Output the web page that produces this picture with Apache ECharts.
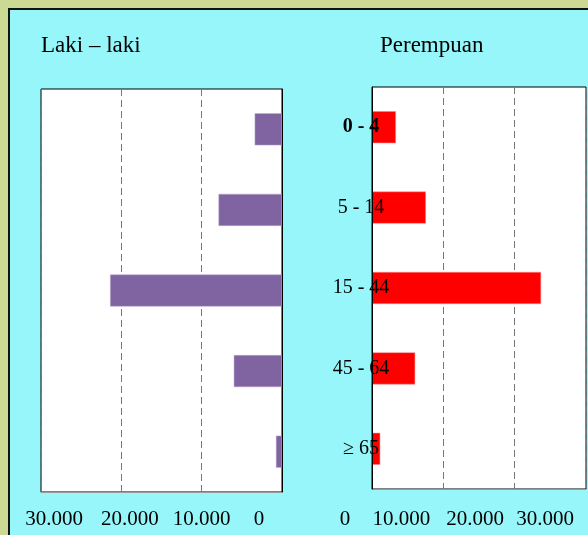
<!DOCTYPE html>
<html>
<head>
<meta charset="utf-8">
<style>
html, body { margin: 0; padding: 0; }
#main { width: 588px; height: 535px; }   /* main必须设置宽和高 */
</style>
<script src="https://cdn.jsdelivr.net/npm/echarts@6/dist/echarts.min.js"></script>
</head>
<body>
<div id="main"></div>
<script>
// 年龄组 (kategori)
var ageGroups = ['0 - 4', '5 - 14', '15 - 44', '45 - 64', '≥ 65'];
// jumlah penduduk
var lakiLaki = [3400, 7900, 21400, 6000, 750];
var perempuan = [3350, 7550, 23700, 6050, 1150];
// tick axis x
var xTicks = [0, 10000, 20000, 30000];

var serif = 'Liberation Serif, Times New Roman, serif';

// 30000 -> "30.000"
function fmt(v) {
    return String(v).replace(/\B(?=(\d{3})+(?!\d))/g, '.');
}

// label di gambar asli bergeser dari tick-nya, geser pakai padding
var leftPad = { 0: [0, 46, 0, 0], 10000: [0, 0, 0, 0], 20000: [0, 0, 0, 17], 30000: [0, 0, 0, 26] };
var rightPad = { 0: [0, 54, 0, 0], 10000: [0, 84, 0, 0], 20000: [0, 79, 0, 0], 30000: [0, 82, 0, 0] };

function richFor(pads) {
    var rich = {};
    xTicks.forEach(function (t) {
        rich['t' + t] = { padding: pads[t], fontSize: 21, fontFamily: serif, color: '#000' };
    });
    return rich;
}

var catLabel = {
    align: 'center',
    margin: 11,
    fontSize: 20,
    fontFamily: serif,
    color: '#000'
};

var myChart = echarts.init(document.getElementById('main'));

myChart.setOption({
    backgroundColor: '#cbd994',
    animation: false,
    graphic: [{
        type: 'rect',
        z: -10,
        shape: { x: 9, y: 9, width: 620, height: 560 },
        style: { fill: '#96f6f9', stroke: '#111', lineWidth: 2 }
    }],
    title: [{
        text: 'Laki – laki',
        left: 41, top: 34, padding: 0,
        textStyle: { fontFamily: serif, fontSize: 23, fontWeight: 'normal', color: '#000' }
    }, {
        text: 'Perempuan',
        left: 380, top: 34, padding: 0,
        textStyle: { fontFamily: serif, fontSize: 23, fontWeight: 'normal', color: '#000' }
    }],
    grid: [{
        left: 41, right: 306, top: 89, bottom: 43,
        show: true, backgroundColor: '#fff', borderColor: '#000', borderWidth: 1
    }, {
        left: 372, right: 2, top: 87, bottom: 46,
        show: true, backgroundColor: '#fff', borderColor: '#000', borderWidth: 1
    }],
    xAxis: [{
        gridIndex: 0,
        type: 'value',
        inverse: true,
        min: 0, max: 30000, interval: 10000,
        axisLine: { show: true, lineStyle: { color: '#999' } },
        axisTick: { show: false },
        splitLine: { lineStyle: { color: '#777', type: [7, 4] } },
        axisLabel: {
            margin: 17,
            formatter: function (v) { return '{t' + v + '|' + fmt(v) + '}'; },
            rich: richFor(leftPad)
        }
    }, {
        gridIndex: 1,
        type: 'value',
        min: 0, max: 30000, interval: 10000,
        axisLine: { show: true, lineStyle: { color: '#999' } },
        axisTick: { show: false },
        splitLine: { lineStyle: { color: '#777', type: [7, 4] } },
        axisLabel: {
            margin: 20,
            formatter: function (v) { return '{t' + v + '|' + fmt(v) + '}'; },
            rich: richFor(rightPad)
        }
    }],
    yAxis: [{
        gridIndex: 0,
        type: 'category',
        position: 'right',
        inverse: true,
        data: ageGroups,
        z: 10,
        axisLine: { lineStyle: { color: '#000' } },
        axisTick: { show: false },
        axisLabel: { show: false }
    }, {
        gridIndex: 1,
        type: 'category',
        inverse: true,
        z: 10,
        data: ageGroups.map(function (g, i) {
            // baris pertama ditulis tebal
            return i === 0 ? { value: g, textStyle: Object.assign({}, catLabel, { fontWeight: 'bold' }) } : g;
        }),
        axisLine: { lineStyle: { color: '#000' } },
        axisTick: { show: false },
        axisLabel: catLabel
    }],
    series: [{
        name: 'Laki – laki',
        type: 'bar',
        xAxisIndex: 0, yAxisIndex: 0,
        data: lakiLaki,
        barWidth: 32,
        itemStyle: { color: '#8064a2', borderColor: '#b8a6cc', borderWidth: 0.5 }
    }, {
        name: 'Perempuan',
        type: 'bar',
        xAxisIndex: 1, yAxisIndex: 1,
        data: perempuan,
        barWidth: 32,
        itemStyle: { color: '#ff0000', borderColor: '#ff8a8a', borderWidth: 0.5 }
    }]
});
</script>
</body>
</html>
